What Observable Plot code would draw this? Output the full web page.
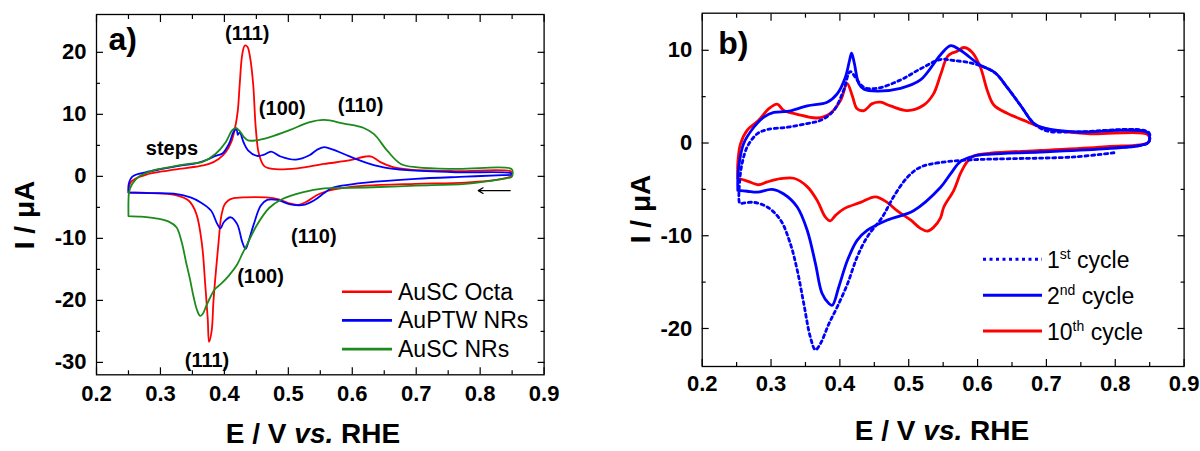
<!DOCTYPE html>
<html><head><meta charset="utf-8">
<script src="https://cdn.jsdelivr.net/npm/d3@7"></script>
<script src="https://cdn.jsdelivr.net/npm/@observablehq/plot@0.6"></script>
<style>
html,body{margin:0;padding:0;background:#fff;}
#wrap{position:relative;width:1200px;height:451px;overflow:hidden;background:#fff;}
</style></head><body><div id="wrap"></div>
<script>
// ---------- data: panel a (E / V vs RHE, I / µA) ----------
const auscOcta = [[0.250,-2.6],[0.251,-1.6],[0.254,-0.9],[0.262,-0.3],[0.277,0.25],[0.303,0.8],[0.329,1.2],[0.355,1.55],[0.376,2.0],[0.391,2.8],[0.402,3.9],[0.411,5.6],[0.417,8.0],[0.421,10.6],[0.424,14.9],[0.428,19.7],[0.432,21.1],[0.436,20.9],[0.440,19.3],[0.445,14.9],[0.449,7.9],[0.454,3.6],[0.462,1.7],[0.475,1.2],[0.514,1.3],[0.556,2.0],[0.597,2.6],[0.621,3.2],[0.630,3.2],[0.644,2.3],[0.665,1.45],[0.690,1.1],[0.760,0.85],[0.848,0.8],[0.850,0.4],[0.848,0.0],[0.835,-0.4],[0.777,-1.0],[0.699,-1.2],[0.621,-1.5],[0.584,-1.9],[0.560,-2.4],[0.545,-3.0],[0.530,-4.0],[0.515,-4.6],[0.500,-4.3],[0.485,-3.7],[0.465,-3.4],[0.430,-3.4],[0.412,-3.6],[0.406,-3.9],[0.400,-4.6],[0.395,-6.5],[0.391,-10.5],[0.387,-15.0],[0.383,-20.0],[0.380,-25.0],[0.376,-26.7],[0.374,-23.0],[0.370,-17.4],[0.365,-11.0],[0.356,-6.0],[0.344,-3.9],[0.322,-3.0],[0.285,-2.7],[0.250,-2.6]];
const auptwNRs = [[0.250,-2.6],[0.2505,-1.2],[0.256,-0.05],[0.277,0.65],[0.303,1.2],[0.329,1.7],[0.355,2.1],[0.376,2.8],[0.386,3.3],[0.397,3.7],[0.407,5.2],[0.415,7.3],[0.419,7.6],[0.421,6.7],[0.424,7.1],[0.430,5.5],[0.437,4.2],[0.451,3.3],[0.462,3.5],[0.473,4.0],[0.488,3.2],[0.512,2.7],[0.533,3.4],[0.545,4.3],[0.556,4.7],[0.570,4.3],[0.587,3.6],[0.619,2.3],[0.649,1.45],[0.686,1.0],[0.764,0.65],[0.848,0.5],[0.849,0.3],[0.835,0.2],[0.777,-0.05],[0.699,-0.4],[0.621,-1.0],[0.584,-1.5],[0.566,-2.0],[0.556,-2.7],[0.540,-3.9],[0.524,-4.6],[0.503,-4.5],[0.483,-3.8],[0.467,-3.8],[0.457,-4.7],[0.446,-7.7],[0.438,-10.4],[0.433,-11.7],[0.428,-10.6],[0.420,-7.7],[0.410,-6.6],[0.399,-7.4],[0.394,-8.4],[0.389,-7.7],[0.379,-5.5],[0.363,-4.2],[0.347,-3.4],[0.321,-2.8],[0.284,-2.7],[0.250,-2.6]];
const auscNRs = [[0.250,-6.4],[0.250,-4.0],[0.251,-2.5],[0.256,-1.2],[0.266,-0.05],[0.287,0.9],[0.313,1.45],[0.344,2.0],[0.365,2.3],[0.386,3.6],[0.402,5.5],[0.412,7.4],[0.418,7.8],[0.424,7.3],[0.430,6.4],[0.437,5.8],[0.449,5.8],[0.470,6.3],[0.501,7.4],[0.532,8.7],[0.556,9.1],[0.587,8.5],[0.618,7.8],[0.634,6.8],[0.655,4.1],[0.676,2.0],[0.702,1.45],[0.764,1.2],[0.849,1.2],[0.851,0.5],[0.849,-0.1],[0.835,-0.4],[0.777,-1.2],[0.699,-1.5],[0.621,-1.8],[0.574,-1.9],[0.556,-1.95],[0.522,-2.6],[0.490,-3.7],[0.470,-5.1],[0.450,-8.0],[0.436,-10.9],[0.428,-12.5],[0.420,-14.2],[0.407,-16.0],[0.395,-17.3],[0.385,-18.2],[0.378,-19.5],[0.372,-20.8],[0.366,-22.2],[0.362,-22.5],[0.357,-21.5],[0.352,-19.5],[0.346,-16.5],[0.340,-13.8],[0.333,-10.5],[0.325,-8.2],[0.313,-7.3],[0.295,-6.8],[0.270,-6.5],[0.250,-6.4]];
const seriesA = ["AuSC Octa","AuPTW NRs","AuSC NRs"];
const colorsA = ["#ff0000","#0000ff","#1c8a1c"];
const annotA = [
  {text:"(111)", E:0.4357, I:23.05},
  {text:"(100)", E:0.4904, I:10.95},
  {text:"(110)", E:0.6129, I:11.35},
  {text:"steps", E:0.318, I:4.5},
  {text:"(110)", E:0.5399, I:-9.65},
  {text:"(100)", E:0.4565, I:-16.15},
  {text:"(111)", E:0.3728, I:-29.7}
];
const scanArrow = [{E1:0.847, E2:0.797, I:-2.3}];

// ---------- data: panel b ----------
const cycle1 = [[0.798,-1.05],[0.740,-1.5],[0.643,-1.7],[0.5945,-1.8],[0.546,-2.1],[0.517,-2.6],[0.498,-3.7],[0.478,-5.8],[0.4615,-8.0],[0.440,-10.1],[0.425,-12.3],[0.411,-15.2],[0.396,-17.7],[0.384,-19.5],[0.372,-21.6],[0.3645,-22.3],[0.357,-20.9],[0.3475,-17.3],[0.338,-13.7],[0.328,-10.85],[0.3137,-8.3],[0.2945,-6.9],[0.275,-6.4],[0.258,-6.5],[0.2546,-6.5],[0.2546,-4.0],[0.258,-2.2],[0.2655,-0.4],[0.280,1.0],[0.2945,1.45],[0.3235,1.7],[0.3525,2.1],[0.372,2.45],[0.391,3.5],[0.4055,5.7],[0.415,7.7],[0.425,6.8],[0.435,6.0],[0.454,5.9],[0.488,6.8],[0.517,8.0],[0.546,9.0],[0.5655,8.9],[0.5945,8.55],[0.6235,7.66],[0.643,6.0],[0.662,4.1],[0.682,2.1],[0.701,1.3],[0.740,1.2],[0.8485,1.15],[0.8485,0.1],[0.837,-0.25],[0.800,-0.5]];
const cycle2 = [[0.2517,-5.1],[0.2517,-4.0],[0.253,-2.6],[0.260,-0.1],[0.275,1.7],[0.2895,2.8],[0.304,3.3],[0.3235,3.4],[0.3525,4.0],[0.3815,4.4],[0.396,5.3],[0.408,7.1],[0.414,8.9],[0.417,9.7],[0.421,8.6],[0.4275,6.4],[0.435,5.8],[0.454,5.6],[0.488,5.9],[0.517,6.8],[0.546,9.5],[0.561,10.5],[0.575,10.0],[0.604,8.4],[0.626,7.55],[0.643,6.0],[0.662,4.1],[0.682,2.1],[0.701,1.55],[0.740,1.2],[0.8475,1.1],[0.8485,0.1],[0.837,-0.25],[0.788,-0.6],[0.691,-0.97],[0.619,-1.2],[0.595,-1.4],[0.575,-2.0],[0.561,-3.3],[0.546,-4.8],[0.507,-7.3],[0.469,-8.3],[0.440,-9.4],[0.425,-10.5],[0.411,-12.65],[0.3985,-15.5],[0.389,-17.5],[0.384,-17.3],[0.374,-16.2],[0.3645,-13.0],[0.3525,-9.4],[0.338,-6.9],[0.3185,-5.5],[0.3015,-5.0],[0.280,-5.3],[0.2655,-5.2],[0.2517,-5.1]];
const cycle10 = [[0.2517,-3.8],[0.2517,-2.2],[0.2556,-0.1],[0.2655,1.4],[0.282,2.45],[0.2968,3.7],[0.309,4.2],[0.3185,3.5],[0.338,3.1],[0.367,2.7],[0.386,3.2],[0.401,4.6],[0.4106,6.4],[0.418,5.1],[0.425,3.7],[0.435,3.5],[0.447,4.25],[0.459,4.4],[0.4735,4.0],[0.498,3.5],[0.522,4.1],[0.536,5.3],[0.546,7.3],[0.556,9.3],[0.563,9.7],[0.5705,9.9],[0.580,10.3],[0.592,9.8],[0.604,8.2],[0.614,5.7],[0.6236,4.1],[0.643,3.2],[0.672,2.3],[0.691,1.7],[0.7157,1.3],[0.764,1.0],[0.8475,0.9],[0.8485,0.1],[0.788,-0.4],[0.691,-0.8],[0.619,-1.1],[0.5945,-1.4],[0.585,-2.0],[0.575,-3.3],[0.5655,-5.1],[0.551,-6.9],[0.546,-8.1],[0.536,-9.1],[0.527,-9.5],[0.517,-9.2],[0.5026,-8.3],[0.483,-7.3],[0.4687,-6.4],[0.4517,-5.8],[0.430,-6.4],[0.4057,-7.1],[0.3936,-7.8],[0.386,-8.4],[0.379,-8.0],[0.367,-6.2],[0.3525,-4.7],[0.333,-3.8],[0.3137,-3.85],[0.2944,-4.2],[0.282,-4.5],[0.2654,-4.1],[0.2517,-3.8]];
const seriesB = [["1","st"," cycle"],["2","nd"," cycle"],["10","th"," cycle"]];
const colorsB = ["#0000ff","#0000ff","#ff0000"];

// ---------- ticks ----------
const xMajor = [0.2,0.3,0.4,0.5,0.6,0.7,0.8,0.9];
const xMinor = [0.25,0.35,0.45,0.55,0.65,0.75,0.85];
const yMajorA = [-30,-20,-10,0,10,20];
const yMinorA = [-25,-15,-5,5,15];
const yMajorB = [-20,-10,0,10];
const yMinorB = [-15,-5,5];

const FONT = '"Liberation Sans", Arial, Helvetica, sans-serif';
const rows = (arr) => arr.map(([E, I]) => ({E, I}));

function tickMarks(xs, ys, len) {
  const o = {tickFormat: () => "", label: null, strokeWidth: 1.2};
  return [
    Plot.axisX(xs, {...o, anchor: "bottom", tickSize: -len}),
    Plot.axisX(xs, {...o, anchor: "top", tickSize: -len}),
    Plot.axisY(ys, {...o, anchor: "left", tickSize: -len}),
    Plot.axisY(ys, {...o, anchor: "right", tickSize: -len})
  ];
}
function tickLabels(ys, xPad) {
  const o = {tickSize: 0, label: null, fontSize: 22, fontWeight: "bold", fill: "black"};
  return [
    Plot.axisX(xMajor, {...o, anchor: "bottom", tickPadding: xPad, tickFormat: d3.format(".1f")}),
    Plot.axisY(ys, {...o, anchor: "left", tickPadding: 10, tickFormat: (d) => String(d)})
  ];
}

const wrap = document.getElementById("wrap");

// ---------- panel a ----------
const plotA = Plot.plot({
  width: 600, height: 451,
  marginLeft: 96, marginRight: 56.4, marginTop: 14, marginBottom: 76.7,
  style: {fontFamily: FONT, background: "transparent", overflow: "visible"},
  x: {domain: [0.2, 0.9]},
  y: {domain: [-32.0, 26.1]},
  marks: [
    Plot.line(rows(auscOcta), {x: "E", y: "I", stroke: colorsA[0], strokeWidth: 1.8, curve: "catmull-rom"}),
    Plot.line(rows(auptwNRs), {x: "E", y: "I", stroke: colorsA[1], strokeWidth: 1.8, curve: "catmull-rom"}),
    Plot.line(rows(auscNRs), {x: "E", y: "I", stroke: colorsA[2], strokeWidth: 1.8, curve: "catmull-rom"}),
    Plot.arrow(scanArrow, {x1: "E1", x2: "E2", y1: "I", y2: "I", stroke: "black", strokeWidth: 1.2, headLength: 7}),
    Plot.text(annotA, {x: "E", y: "I", text: "text", fontSize: 20, fontWeight: "bold", fill: "black", lineAnchor: "middle"}),
    Plot.text(["a)"], {frameAnchor: "top-left", dx: 12, dy: 13, lineAnchor: "top", textAnchor: "start", fontSize: 32, fontWeight: "bold", fill: "black"}),
    ...tickMarks(xMajor, yMajorA, 7),
    ...tickMarks(xMinor, yMinorA, 4),
    ...tickLabels(yMajorA, 11),
    Plot.frame({stroke: "black", strokeWidth: 1.3})
  ]
});
plotA.style.position = "absolute"; plotA.style.left = "0px"; plotA.style.top = "0px";
wrap.appendChild(plotA);

// ---------- panel b ----------
const plotB = Plot.plot({
  width: 600, height: 451,
  marginLeft: 101.7, marginRight: 16.4, marginTop: 12.7, marginBottom: 85,
  style: {fontFamily: FONT, background: "transparent", overflow: "visible"},
  x: {domain: [0.2, 0.9]},
  y: {domain: [-24.1, 14.0]},
  marks: [
    Plot.line(rows(cycle10), {x: "E", y: "I", stroke: colorsB[2], strokeWidth: 2.8, curve: "catmull-rom"}),
    Plot.line(rows(cycle1), {x: "E", y: "I", stroke: colorsB[0], strokeWidth: 2.8, strokeDasharray: "3,3.5", curve: "catmull-rom"}),
    Plot.line(rows(cycle2), {x: "E", y: "I", stroke: colorsB[1], strokeWidth: 2.8, curve: "catmull-rom"}),
    Plot.text(["b)"], {frameAnchor: "top-left", dx: 16, dy: 18, lineAnchor: "top", textAnchor: "start", fontSize: 32, fontWeight: "bold", fill: "black"}),
    ...tickMarks(xMajor, yMajorB, 7),
    ...tickMarks(xMinor, yMinorB, 4),
    ...tickLabels(yMajorB, 9),
    Plot.frame({stroke: "black", strokeWidth: 1.3})
  ]
});
plotB.style.position = "absolute"; plotB.style.left = "600px"; plotB.style.top = "0px";
wrap.appendChild(plotB);

// ---------- titles and legends ----------
const ov = d3.select(wrap).append("svg")
  .attr("width", 1200).attr("height", 451)
  .style("position", "absolute").style("left", "0px").style("top", "0px")
  .style("font-family", FONT).style("pointer-events", "none");

function xTitle(cx, by) {
  const t = ov.append("text").attr("x", cx).attr("y", by).attr("text-anchor", "middle")
    .attr("font-size", 28).attr("font-weight", "bold").attr("fill", "black");
  t.append("tspan").text("E / V ");
  t.append("tspan").attr("font-style", "italic").text("vs.");
  t.append("tspan").text(" RHE");
}
function yTitle(bx, cy) {
  ov.append("text").attr("transform", `translate(${bx},${cy}) rotate(-90)`)
    .attr("text-anchor", "middle").attr("font-size", 28).attr("font-weight", "bold")
    .attr("fill", "black").text("I / μA");
}
xTitle(313, 443);
xTitle(942, 440);
yTitle(34, 215);
yTitle(650, 209);

// legend a
seriesA.forEach((name, i) => {
  const y = 291.7 + i * 28.7;
  ov.append("line").attr("x1", 342).attr("x2", 392).attr("y1", y).attr("y2", y)
    .attr("stroke", colorsA[i]).attr("stroke-width", 2.6);
  ov.append("text").attr("x", 398).attr("y", y + 8).attr("font-size", 23).attr("fill", "black").text(name);
});
// legend b
const dashB = ["3,3.5", null, null];
seriesB.forEach((parts, i) => {
  const y = 259.3 + i * 35.9;
  const ln = ov.append("line").attr("x1", 983).attr("x2", 1042).attr("y1", y).attr("y2", y)
    .attr("stroke", colorsB[i]).attr("stroke-width", 3);
  if (dashB[i]) ln.attr("stroke-dasharray", dashB[i]);
  const t = ov.append("text").attr("x", 1047).attr("y", y + 9).attr("font-size", 23).attr("fill", "black");
  t.append("tspan").text(parts[0]);
  t.append("tspan").attr("dy", -9).attr("font-size", 14).text(parts[1]);
  t.append("tspan").attr("dy", 9).text(parts[2]);
});
</script></body></html>
